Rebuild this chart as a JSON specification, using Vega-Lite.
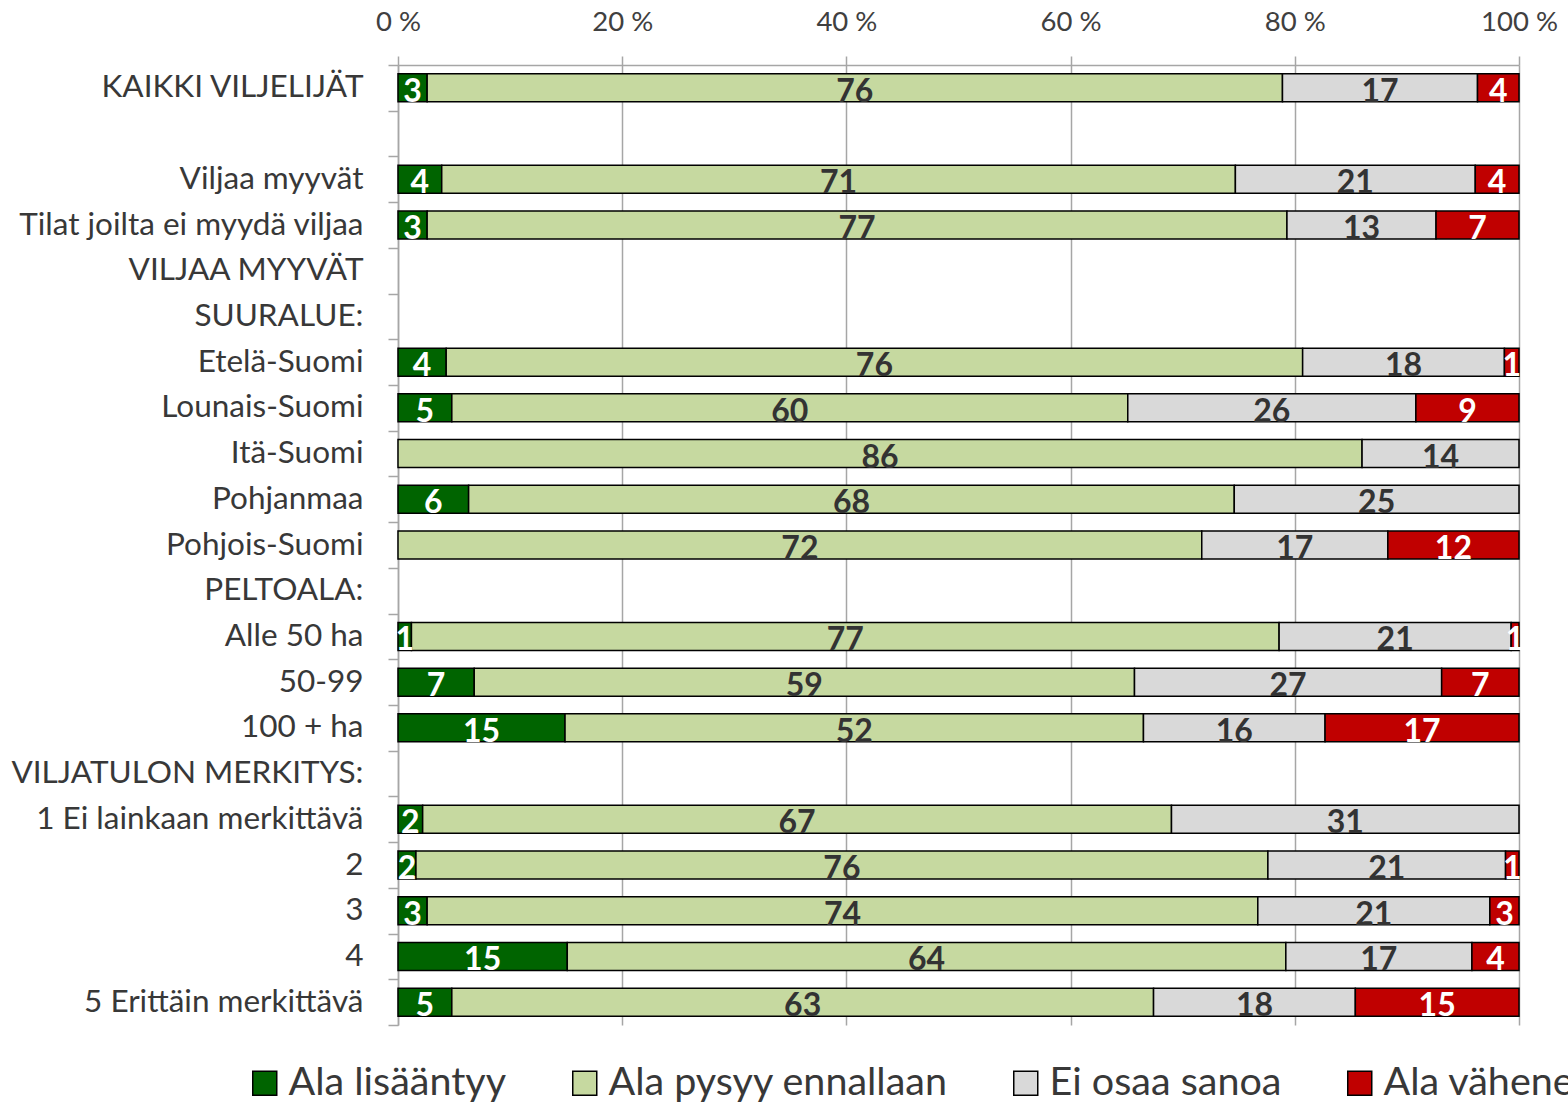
{
  "$schema": "https://vega.github.io/schema/vega-lite/v6.json",
  "width": 1121,
  "height": 960,
  "autosize": {"type": "none"},
  "padding": {"left": 398, "top": 65, "right": 49, "bottom": 79},
  "background": "white",
  "config": {"view": {"stroke": null}, "font": "Lato"},
  "data": {"values": [
    {"r": "KAIKKI VILJELIJÄT", "c": "Ala lisääntyy", "v": 2.6},
    {"r": "KAIKKI VILJELIJÄT", "c": "Ala pysyy ennallaan", "v": 76.3},
    {"r": "KAIKKI VILJELIJÄT", "c": "Ei osaa sanoa", "v": 17.4},
    {"r": "KAIKKI VILJELIJÄT", "c": "Ala vähenee", "v": 3.7},
    {"r": "Viljaa myyvät ", "c": "Ala lisääntyy", "v": 3.9},
    {"r": "Viljaa myyvät ", "c": "Ala pysyy ennallaan", "v": 70.8},
    {"r": "Viljaa myyvät ", "c": "Ei osaa sanoa", "v": 21.4},
    {"r": "Viljaa myyvät ", "c": "Ala vähenee", "v": 3.9},
    {"r": "Tilat joilta ei myydä viljaa", "c": "Ala lisääntyy", "v": 2.6},
    {"r": "Tilat joilta ei myydä viljaa", "c": "Ala pysyy ennallaan", "v": 76.7},
    {"r": "Tilat joilta ei myydä viljaa", "c": "Ei osaa sanoa", "v": 13.3},
    {"r": "Tilat joilta ei myydä viljaa", "c": "Ala vähenee", "v": 7.4},
    {"r": "Etelä-Suomi", "c": "Ala lisääntyy", "v": 4.3},
    {"r": "Etelä-Suomi", "c": "Ala pysyy ennallaan", "v": 76.4},
    {"r": "Etelä-Suomi", "c": "Ei osaa sanoa", "v": 18.0},
    {"r": "Etelä-Suomi", "c": "Ala vähenee", "v": 1.3},
    {"r": "Lounais-Suomi", "c": "Ala lisääntyy", "v": 4.8},
    {"r": "Lounais-Suomi", "c": "Ala pysyy ennallaan", "v": 60.3},
    {"r": "Lounais-Suomi", "c": "Ei osaa sanoa", "v": 25.7},
    {"r": "Lounais-Suomi", "c": "Ala vähenee", "v": 9.2},
    {"r": "Itä-Suomi", "c": "Ala pysyy ennallaan", "v": 86.0},
    {"r": "Itä-Suomi", "c": "Ei osaa sanoa", "v": 14.0},
    {"r": "Pohjanmaa", "c": "Ala lisääntyy", "v": 6.3},
    {"r": "Pohjanmaa", "c": "Ala pysyy ennallaan", "v": 68.3},
    {"r": "Pohjanmaa", "c": "Ei osaa sanoa", "v": 25.4},
    {"r": "Pohjois-Suomi", "c": "Ala pysyy ennallaan", "v": 71.7},
    {"r": "Pohjois-Suomi", "c": "Ei osaa sanoa", "v": 16.6},
    {"r": "Pohjois-Suomi", "c": "Ala vähenee", "v": 11.7},
    {"r": "Alle 50 ha", "c": "Ala lisääntyy", "v": 1.2},
    {"r": "Alle 50 ha", "c": "Ala pysyy ennallaan", "v": 77.4},
    {"r": "Alle 50 ha", "c": "Ei osaa sanoa", "v": 20.7},
    {"r": "Alle 50 ha", "c": "Ala vähenee", "v": 0.7},
    {"r": "50-99", "c": "Ala lisääntyy", "v": 6.8},
    {"r": "50-99", "c": "Ala pysyy ennallaan", "v": 58.9},
    {"r": "50-99", "c": "Ei osaa sanoa", "v": 27.4},
    {"r": "50-99", "c": "Ala vähenee", "v": 6.9},
    {"r": "100 + ha", "c": "Ala lisääntyy", "v": 14.9},
    {"r": "100 + ha", "c": "Ala pysyy ennallaan", "v": 51.6},
    {"r": "100 + ha", "c": "Ei osaa sanoa", "v": 16.2},
    {"r": "100 + ha", "c": "Ala vähenee", "v": 17.3},
    {"r": "1 Ei lainkaan merkittävä", "c": "Ala lisääntyy", "v": 2.2},
    {"r": "1 Ei lainkaan merkittävä", "c": "Ala pysyy ennallaan", "v": 66.8},
    {"r": "1 Ei lainkaan merkittävä", "c": "Ei osaa sanoa", "v": 31.0},
    {"r": "2", "c": "Ala lisääntyy", "v": 1.6},
    {"r": "2", "c": "Ala pysyy ennallaan", "v": 76.0},
    {"r": "2", "c": "Ei osaa sanoa", "v": 21.2},
    {"r": "2", "c": "Ala vähenee", "v": 1.2},
    {"r": "3", "c": "Ala lisääntyy", "v": 2.6},
    {"r": "3", "c": "Ala pysyy ennallaan", "v": 74.1},
    {"r": "3", "c": "Ei osaa sanoa", "v": 20.7},
    {"r": "3", "c": "Ala vähenee", "v": 2.6},
    {"r": "4", "c": "Ala lisääntyy", "v": 15.1},
    {"r": "4", "c": "Ala pysyy ennallaan", "v": 64.1},
    {"r": "4", "c": "Ei osaa sanoa", "v": 16.6},
    {"r": "4", "c": "Ala vähenee", "v": 4.2},
    {"r": "5 Erittäin merkittävä", "c": "Ala lisääntyy", "v": 4.8},
    {"r": "5 Erittäin merkittävä", "c": "Ala pysyy ennallaan", "v": 62.6},
    {"r": "5 Erittäin merkittävä", "c": "Ei osaa sanoa", "v": 18.0},
    {"r": "5 Erittäin merkittävä", "c": "Ala vähenee", "v": 14.6}
  ]},
  "transform": [
    {"calculate": "indexof(['Ala lisääntyy','Ala pysyy ennallaan','Ei osaa sanoa','Ala vähenee'], datum.c)", "as": "o"},
    {"stack": "v", "groupby": ["r"], "sort": [{"field": "o", "order": "ascending"}], "as": ["v0", "v1"]},
    {"calculate": "(datum.v0 + datum.v1) / 2", "as": "mid"}
  ],
  "encoding": {
    "y": {
      "field": "r",
      "type": "nominal",
      "title": null,
      "scale": {
        "domain": ["KAIKKI VILJELIJÄT", " ", "Viljaa myyvät ", "Tilat joilta ei myydä viljaa", "VILJAA MYYVÄT", "SUURALUE:", "Etelä-Suomi", "Lounais-Suomi", "Itä-Suomi", "Pohjanmaa", "Pohjois-Suomi", "PELTOALA:", "Alle 50 ha", "50-99", "100 + ha", "VILJATULON MERKITYS:", "1 Ei lainkaan merkittävä", "2", "3", "4", "5 Erittäin merkittävä"],
        "paddingInner": 0,
        "paddingOuter": 0
      },
      "axis": {
        "domainColor": "#a6a6a6",
        "domainWidth": 1.5,
        "tickColor": "#a6a6a6",
        "tickWidth": 1.5,
        "tickSize": 10,
        "tickBand": "extent",
        "labelFontSize": 31.5,
        "labelColor": "#383838",
        "labelPadding": 25,
        "labelLimit": 420,
        "grid": false
      }
    }
  },
  "layer": [
    {
      "mark": {"type": "bar", "height": {"band": 0.613}, "stroke": "black", "strokeWidth": 1.5},
      "encoding": {
        "x": {
          "field": "v0",
          "type": "quantitative",
          "scale": {"domain": [0, 100], "nice": false},
          "axis": {
            "orient": "top",
            "title": null,
            "values": [0, 20, 40, 60, 80, 100],
            "labelExpr": "datum.value + ' %'",
            "grid": true,
            "gridColor": "#a6a6a6",
            "gridWidth": 1.5,
            "domainColor": "#a6a6a6",
            "domainWidth": 1.5,
            "tickColor": "#a6a6a6",
            "tickWidth": 1.5,
            "tickSize": 9,
            "labelFontSize": 27.5,
            "labelColor": "#404040",
            "labelPadding": 20,
            "labelFlush": false
          }
        },
        "x2": {"field": "v1"},
        "color": {
          "field": "c",
          "type": "nominal",
          "scale": {
            "domain": ["Ala lisääntyy", "Ala pysyy ennallaan", "Ei osaa sanoa", "Ala vähenee"],
            "range": ["#006400", "#c6d9a0", "#d9d9d9", "#c00000"]
          },
          "legend": {
            "orient": "none",
            "legendX": -153,
            "legendY": 998,
            "direction": "horizontal",
            "columns": 4,
            "title": null,
            "padding": 0,
            "symbolType": "square",
            "symbolSize": 576,
            "symbolStrokeColor": "black",
            "symbolStrokeWidth": 1.5,
            "symbolOpacity": 1,
            "labelFontSize": 39.5,
            "labelColor": "#383838",
            "labelOffset": 4,
            "labelLimit": 600,
            "columnPadding": 58
          }
        }
      }
    },
    {
      "mark": {"type": "text", "fontWeight": "bold", "fontSize": 32, "baseline": "middle", "dy": 4},
      "encoding": {
        "x": {"field": "mid", "type": "quantitative"},
        "text": {"field": "v", "type": "quantitative", "format": ".0f"},
        "color": {
          "condition": {"test": "datum.c === 'Ala lisääntyy' || datum.c === 'Ala vähenee'", "value": "white"},
          "value": "#333333"
        }
      }
    }
  ]
}
